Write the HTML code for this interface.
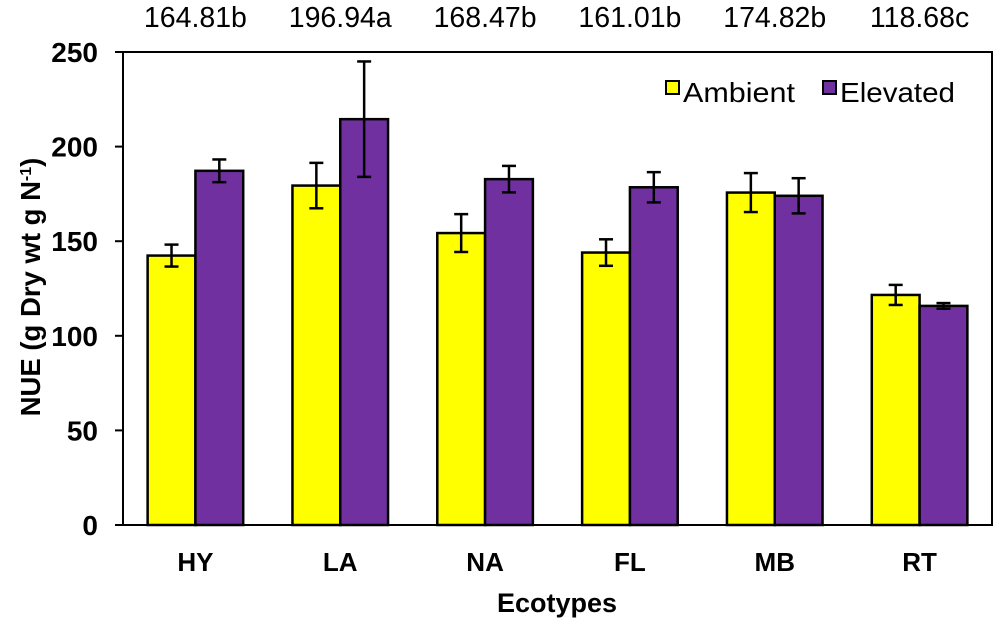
<!DOCTYPE html>
<html><head><meta charset="utf-8"><style>
body{margin:0;background:#fff;}
svg{display:block;font-family:"Liberation Sans",Arial,sans-serif;}
</style></head><body>
<svg id="chart" width="1000" height="631"></svg>
<script>
const categories=["HY","LA","NA","FL","MB","RT"];
const ambient=[142.4,179.4,154.3,144,175.7,121.6];
const ambientErr=[5.8,12,10,7,10.3,5.3];
const elevated=[187.2,214.5,182.8,178.5,174,115.8];
const elevatedErr=[6,30.5,7,8,9.3,1.5];
const topLabels=["164.81b","196.94a","168.47b","161.01b","174.82b","118.68c"];
const yTicks=[0,50,100,150,200,250];
const NS="http://www.w3.org/2000/svg";
const svg=document.getElementById("chart");
const L=123,R=992,T=52,B=525,yMax=250;
const bw=(R-L)/categories.length;
const y=v=>B-v/yMax*(B-T);
const xc=i=>L+bw*(i+0.5);
function mk(tag,attrs,parent){const e=document.createElementNS(NS,tag);for(const k in attrs)e.setAttribute(k,attrs[k]);(parent||svg).appendChild(e);return e;}
const frame=mk("rect",{x:L,y:T,width:R-L,height:B-T,fill:"none",stroke:"#000","stroke-width":2});


yTicks.forEach(t=>{
 const tk=mk("line",{x1:L-8,x2:L,y1:y(t),y2:y(t),stroke:"#000","stroke-width":2});
 
 
 const tl=mk("text",{x:L-25,y:y(t)+10,"text-anchor":"end","font-size":28,"font-weight":"bold"});
 tl.textContent=t;
 
 
});
const barW=bw*0.33;
function bar(i,v,e,off,color,nm){
 const x0=xc(i)+off;
 const r=mk("rect",{x:x0,y:y(v),width:barW,height:B-y(v),fill:color,stroke:"#000","stroke-width":2.5});
 
 
 const cx=x0+barW/2;
 const g=mk("g",{stroke:"#000","stroke-width":2.5});
 
 
 mk("line",{x1:cx,x2:cx,y1:y(v+e),y2:y(v-e)},g);
 mk("line",{x1:cx-7,x2:cx+7,y1:y(v+e),y2:y(v+e)},g);
 mk("line",{x1:cx-7,x2:cx+7,y1:y(v-e),y2:y(v-e)},g);
}
categories.forEach((c,i)=>{
 bar(i,ambient[i],ambientErr[i],-barW,"#ffff00","ambient");
 bar(i,elevated[i],elevatedErr[i],0,"#7030a0","elevated");
 const cl=mk("text",{x:xc(i),y:571,"text-anchor":"middle","font-size":26,"font-weight":"bold"});
 cl.textContent=c;
 
 
 const tl=mk("text",{x:xc(i),y:27,"text-anchor":"middle","font-size":28.5});
 tl.textContent=topLabels[i];
 
 
});
const xt=mk("text",{x:557,y:612,"text-anchor":"middle","font-size":27,"font-weight":"bold"});
xt.textContent="Ecotypes";


const yt=mk("text",{x:0,y:0,"text-anchor":"middle","font-size":27.5,"font-weight":"bold",transform:"translate(40,287) rotate(-90)"});
yt.innerHTML='NUE (g Dry wt g N<tspan dy="-9" font-size="16">-1</tspan><tspan dy="9">)</tspan>';


const lg=mk("g",{});


mk("rect",{x:666,y:81,width:13,height:13,fill:"#ffff00",stroke:"#000","stroke-width":2},lg);
const t1=mk("text",{x:683,y:102,"font-size":28,textLength:112,lengthAdjust:"spacingAndGlyphs"},lg);t1.textContent="Ambient";
mk("rect",{x:823,y:81,width:13,height:13,fill:"#7030a0",stroke:"#000","stroke-width":2},lg);
const t2=mk("text",{x:840,y:102,"font-size":28,textLength:115,lengthAdjust:"spacingAndGlyphs"},lg);t2.textContent="Elevated";
</script>
</body></html>
